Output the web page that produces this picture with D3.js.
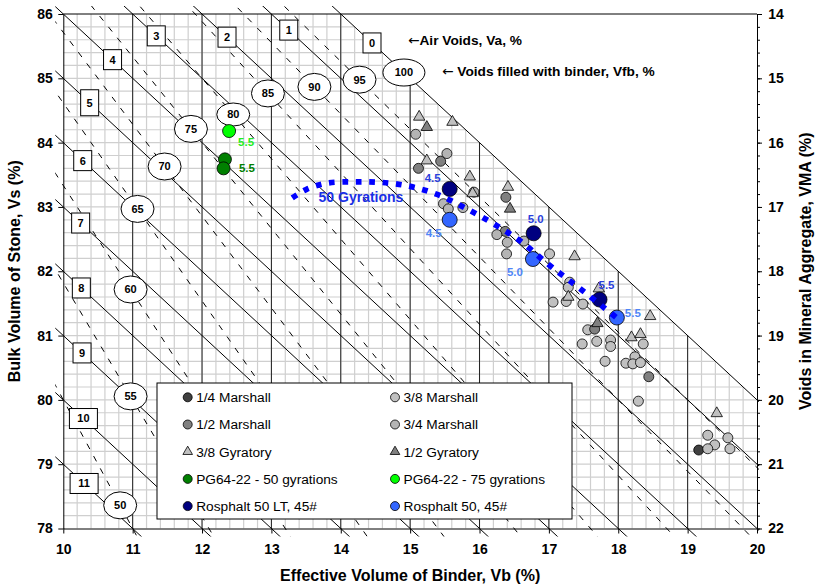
<!DOCTYPE html>
<html>
<head>
<meta charset="utf-8">
<script src="https://cdn.jsdelivr.net/npm/d3@7"></script>
<style>
body { margin: 0; background: #fff; }
svg { font-family: "Liberation Sans", Arial, sans-serif; }
</style>
</head>
<body>
<svg id="chart" width="817" height="588"></svg>
<script>
// axis ticks
var vbTicks = [10, 11, 12, 13, 14, 15, 16, 17, 18, 19, 20];
var vsTicks = [78, 79, 80, 81, 82, 83, 84, 85, 86];
var vmaTicks = [14, 15, 16, 17, 18, 19, 20, 21, 22];

// air voids lines (solid) and voids-filled lines (dashed)
var vaLevels = [0, 1, 2, 3, 4, 5, 6, 7, 8, 9, 10, 11];
var vaLabelVb = [14.45, 13.25, 12.36, 11.34, 10.71, 10.38, 10.28, 10.25, 10.26, 10.27, 10.29, 10.30];
var vfbLevels = [50, 55, 60, 65, 70, 75, 80, 85, 90, 95, 100];
var vfbLabelVb = [10.82, 10.97, 10.97, 11.07, 11.46, 11.84, 12.45, 12.95, 13.62, 14.27, 14.91];

// series (Vb, Vs)
var m14Vb = [19.16];
var m14Vs = [79.22];
var m38Vb = [17.01, 17.30, 17.28, 17.25, 17.06, 17.49, 17.56, 17.48, 17.69, 17.89, 17.89, 18.36, 17.81, 18.11, 18.24, 18.21, 18.32, 18.29, 19.29, 19.58, 19.39, 19.29, 19.61];
var m38Vs = [82.27, 81.83, 81.75, 81.53, 81.52, 81.49, 81.09, 80.87, 80.91, 80.93, 80.83, 80.87, 80.60, 80.57, 80.67, 80.56, 80.58, 79.98, 79.45, 79.41, 79.30, 79.24, 79.24];
var m12Vb = [15.44, 15.12, 16.38, 16.37, 17.66, 18.44];
var m12Vs = [83.71, 83.60, 83.15, 82.62, 81.10, 80.36];
var m34Vb = [15.08, 15.53, 15.92, 15.48, 15.55, 15.76, 16.25, 16.40, 16.39, 16.64];
var m34Vs = [84.13, 83.83, 83.23, 83.05, 82.97, 82.99, 82.57, 82.45, 82.27, 82.47];
var g38Vb = [15.13, 15.61, 15.24, 15.86, 15.90, 16.41, 17.37, 17.28, 17.72, 18.19, 18.32, 18.46, 19.42];
var g38Vs = [84.40, 84.32, 83.72, 83.47, 83.21, 83.31, 82.23, 81.60, 81.73, 80.97, 81.02, 81.30, 79.79];
var g12Vb = [15.24, 16.44, 17.70];
var g12Vs = [84.24, 82.97, 81.19];
var pg50Vb = [12.33, 12.31];
var pg50Vs = [83.74, 83.60];
var pg75Vb = [12.39];
var pg75Vs = [84.18];
var rosLtVb = [15.57, 16.78, 17.73];
var rosLtVs = [83.28, 82.59, 81.56];
var rosVb = [15.57, 16.77, 17.98];
var rosVs = [82.80, 82.19, 81.28];
var binderLabels = ['4.5', '5.0', '5.5'];

// 50 gyrations trend
var gyrVb = [13.30, 13.50, 13.80, 14.20, 14.60, 15.00, 15.40, 15.80, 16.20, 16.60, 17.00, 17.40, 17.80, 18.05];
var gyrVs = [83.14, 83.27, 83.37, 83.39, 83.38, 83.32, 83.19, 82.98, 82.74, 82.46, 82.10, 81.77, 81.43, 81.21];

var svg = d3.select('#chart');
var x = d3.scaleLinear().domain([10, 20]).range([63.3, 757]);
var y = d3.scaleLinear().domain([78, 86]).range([528.5, 14]);
var yVma = d3.scaleLinear().domain([22, 14]).range([528.5, 14]);

var defs = svg.append('defs');
defs.append('clipPath').attr('id', 'gridClip').append('polygon')
  .attr('points', [[10, 86], [14, 86], [20, 80], [20, 78], [10, 78]]
    .map(function(p) { return x(p[0]) + ',' + y(p[1]); }).join(' '));
defs.append('clipPath').attr('id', 'lineClip').append('rect')
  .attr('x', x(10) - 8).attr('y', y(86) - 8)
  .attr('width', x(20) - x(10) + 10).attr('height', y(78) - y(86) + 16);

// minor grid
var minorVb = d3.range(51, 100).map(function(i) { return i / 5; });
var minorVs = d3.range(391, 430).map(function(i) { return i / 5; });
var grid = svg.append('g').attr('clip-path', 'url(#gridClip)');
grid.selectAll('line.gv').data(minorVb).enter().append('line')
  .attr('x1', d => x(d)).attr('x2', d => x(d))
  .attr('y1', y(78)).attr('y2', y(86))
  .attr('stroke', '#cfcfcf').attr('stroke-width', 1.2);
grid.selectAll('line.gh').data(minorVs).enter().append('line')
  .attr('y1', d => y(d)).attr('y2', d => y(d))
  .attr('x1', x(10)).attr('x2', x(20))
  .attr('stroke', '#cfcfcf').attr('stroke-width', 1.2);

// black verticals below the zero air voids line
svg.append('g').selectAll('line').data(vbTicks.slice(1, -1)).enter().append('line')
  .attr('x1', d => x(d)).attr('x2', d => x(d))
  .attr('y1', y(78)).attr('y2', d => y(Math.min(86, 100 - d)))
  .attr('stroke', '#222').attr('stroke-width', 1);

// diagonal lines
var diag = svg.append('g').attr('clip-path', 'url(#lineClip)');
var line = d3.line().x(d => x(d[0])).y(d => y(d[1]));
diag.selectAll('path.vfb').data(vfbLevels.slice(0, -1)).enter().append('path')
  .attr('d', f => line([[9, 100 - 900 / f], [21, 100 - 2100 / f]]))
  .attr('fill', 'none').attr('stroke', '#000').attr('stroke-width', 1)
  .attr('stroke-dasharray', '6,8');
diag.selectAll('path.va').data(vaLevels).enter().append('path')
  .attr('d', a => line([[9, 91 - a], [21, 79 - a]]))
  .attr('fill', 'none').attr('stroke', '#000').attr('stroke-width', 1);

// axes
function styleAxis(g, size) {
  g.selectAll('text').attr('font-size', size).attr('font-weight', 'bold').attr('fill', '#000');
  g.selectAll('path,line').attr('stroke', '#000');
}
svg.append('g').attr('transform', 'translate(0,' + y(78) + ')')
  .call(d3.axisBottom(x).tickValues(vbTicks).tickSize(5).tickPadding(10.5).tickSizeOuter(0).tickFormat(d3.format('d')))
  .call(g => styleAxis(g, 14));
svg.append('g').attr('transform', 'translate(' + x(10) + ',0)')
  .call(d3.axisLeft(y).tickValues(vsTicks).tickSize(5).tickPadding(5.6).tickSizeOuter(0).tickFormat(d3.format('d')))
  .call(g => styleAxis(g, 14));
svg.append('g').attr('transform', 'translate(' + x(20) + ',0)')
  .call(d3.axisRight(yVma).tickValues(d3.range(70, 111).map(i => i / 5)).tickSize(3).tickSizeOuter(0).tickFormat(''))
  .call(g => styleAxis(g, 14));
svg.append('g').attr('transform', 'translate(' + x(20) + ',0)')
  .call(d3.axisRight(yVma).tickValues(vmaTicks).tickSize(5).tickPadding(6.3).tickSizeOuter(0).tickFormat(d3.format('d')))
  .call(g => styleAxis(g, 14));
svg.append('line')
  .attr('x1', x(10)).attr('x2', x(20)).attr('y1', y(86)).attr('y2', y(86))
  .attr('stroke', '#000');

// axis titles
svg.append('text').attr('x', (x(10) + x(20)) / 2).attr('y', 581)
  .attr('text-anchor', 'middle').attr('font-size', 16).attr('font-weight', 'bold')
  .text('Effective Volume of Binder, Vb (%)');
svg.append('text').attr('transform', 'translate(20,' + (y(82)) + ') rotate(-90)')
  .attr('text-anchor', 'middle').attr('font-size', 16).attr('font-weight', 'bold')
  .text('Bulk Volume of Stone, Vs (%)');
svg.append('text').attr('transform', 'translate(811,' + (y(82)) + ') rotate(-90)')
  .attr('text-anchor', 'middle').attr('font-size', 16).attr('font-weight', 'bold')
  .text('Voids in Mineral Aggregate, VMA (%)');

// vfb ellipse labels
var ell = svg.append('g').selectAll('g').data(vfbLevels).enter().append('g')
  .attr('transform', (f, i) => {
    var vb = vfbLabelVb[i];
    return 'translate(' + x(vb) + ',' + y(100 - vb * 100 / f) + ')';
  });
ell.append('ellipse')
  .attr('rx', f => f === 100 ? 21 : 16.5)
  .attr('ry', f => f === 80 ? 11.5 : 13.5)
  .attr('fill', '#fff').attr('stroke', '#000').attr('stroke-width', 1);
ell.append('text').attr('text-anchor', 'middle').attr('dy', '0.36em')
  .attr('font-size', 11).attr('font-weight', 'bold').text(f => f);

// va box labels
var box = svg.append('g').selectAll('g').data(vaLevels).enter().append('g')
  .attr('transform', (a, i) => {
    var vb = vaLabelVb[i];
    return 'translate(' + x(vb) + ',' + y(100 - a - vb) + ')';
  });
box.append('rect')
  .attr('x', a => a >= 10 ? -14 : -9).attr('width', a => a >= 10 ? 28 : 18)
  .attr('y', a => a === 5 ? -13 : -10).attr('height', a => a === 5 ? 26 : 20)
  .attr('fill', '#fff').attr('stroke', '#000').attr('stroke-width', 1);
box.append('text').attr('text-anchor', 'middle').attr('dy', '0.36em')
  .attr('font-size', 11).attr('font-weight', 'bold').text(a => a);

// annotations
var ann1 = svg.append('text').attr('x', 408).attr('y', 45).attr('font-size', 13.7).attr('font-weight', 'bold');
ann1.append('tspan').attr('font-family', 'DejaVu Sans').attr('font-weight', 'normal').text('\u2190');
ann1.append('tspan').text('Air Voids, Va, %');
var ann2 = svg.append('text').attr('x', 442).attr('y', 75.5).attr('font-size', 13.7).attr('font-weight', 'bold');
ann2.append('tspan').attr('font-family', 'DejaVu Sans').attr('font-weight', 'normal').text('\u2190');
ann2.append('tspan').text(' Voids filled with binder, Vfb, %');

// markers
var tri = d3.symbol().type(d3.symbolTriangle).size(56);
function drawCircles(vb, vs, fill, r) {
  svg.append('g').selectAll('circle').data(d3.zip(vb, vs)).enter().append('circle')
    .attr('cx', d => x(d[0])).attr('cy', d => y(d[1])).attr('r', r)
    .attr('fill', fill).attr('stroke', '#000').attr('stroke-width', 0.8);
}
function drawTriangles(vb, vs, fill) {
  svg.append('g').selectAll('path').data(d3.zip(vb, vs)).enter().append('path')
    .attr('transform', d => 'translate(' + x(d[0]) + ',' + y(d[1]) + ')')
    .attr('d', tri).attr('fill', fill).attr('stroke', '#000').attr('stroke-width', 0.8);
}
drawCircles(m14Vb, m14Vs, '#404040', 5);
drawCircles(m38Vb, m38Vs, '#c0c0c0', 5);
drawCircles(m12Vb, m12Vs, '#808080', 5);
drawCircles(m34Vb, m34Vs, '#b4b4b4', 5);
drawTriangles(g38Vb, g38Vs, '#c0c0c0');
drawTriangles(g12Vb, g12Vs, '#808080');
drawCircles(pg50Vb, pg50Vs, '#008000', 6.5);
drawCircles(pg75Vb, pg75Vs, '#00ff00', 6.5);
drawCircles(rosLtVb, rosLtVs, '#000080', 7.5);
drawCircles(rosVb, rosVs, '#3366ff', 7.5);

// 50 gyrations trend
svg.append('path')
  .attr('d', d3.line().x(d => x(d[0])).y(d => y(d[1])).curve(d3.curveCatmullRom)(d3.zip(gyrVb, gyrVs)))
  .attr('fill', 'none').attr('stroke', '#0000ff').attr('stroke-width', 5.7)
  .attr('stroke-dasharray', '5.7,7.7');
svg.append('text').attr('x', 361).attr('y', 202).attr('text-anchor', 'middle')
  .attr('font-size', 14).attr('font-weight', 'bold').attr('fill', '#1a2fe6')
  .text('50 Gyrations');

// point labels
var rosLtOffset = [[-17, -11], [2, -14], [7, -15]];
var rosOffset = [[-16, 13], [-18, 13], [16, -5]];
function drawLabels(vb, vs, texts, offs, color) {
  svg.append('g').selectAll('text').data(d3.zip(vb, vs, texts, offs)).enter().append('text')
    .attr('x', d => x(d[0]) + d[3][0]).attr('y', d => y(d[1]) + d[3][1])
    .attr('dy', '0.36em').attr('text-anchor', 'middle')
    .attr('font-size', 11.5).attr('font-weight', 'bold').attr('fill', color)
    .text(d => d[2]);
}
drawLabels(rosLtVb, rosLtVs, binderLabels, rosLtOffset, '#2a3fdc');
drawLabels(rosVb, rosVs, binderLabels, rosOffset, '#4f86f7');
drawLabels(pg75Vb, pg75Vs, ['5.5'], [[17, 11]], '#22ee22');
drawLabels(pg50Vb.slice(0, 1), pg50Vs.slice(0, 1), ['5.5'], [[22, 9]], '#008000');

// legend
var legendNames = ['1/4 Marshall', '3/8 Marshall', '1/2 Marshall', '3/4 Marshall', '3/8 Gyratory', '1/2 Gyratory',
  'PG64-22 - 50 gyrations', 'PG64-22 - 75 gyrations', 'Rosphalt 50 LT, 45#', 'Rosphalt 50, 45#'];
var legendFill = ['#404040', '#c0c0c0', '#808080', '#b4b4b4', '#c0c0c0', '#808080', '#008000', '#00ff00', '#000080', '#3366ff'];
var legendShape = ['c', 'c', 'c', 'c', 't', 't', 'c', 'c', 'c', 'c'];

var lg = svg.append('g');
lg.append('rect').attr('x', 157).attr('y', 383).attr('width', 415).attr('height', 136)
  .attr('fill', '#fff').attr('stroke', '#000').attr('stroke-width', 1);
var item = lg.selectAll('g').data(legendNames).enter().append('g')
  .attr('transform', (d, i) => 'translate(' + (i % 2 ? 395 : 187.7) + ',' + (397.3 + Math.floor(i / 2) * 27.2) + ')');
item.each(function(d, i) {
  var g = d3.select(this);
  if (legendShape[i] === 'c') {
    g.append('circle').attr('r', 4.5).attr('fill', legendFill[i]).attr('stroke', '#000').attr('stroke-width', 0.8);
  } else {
    g.append('path').attr('d', d3.symbol().type(d3.symbolTriangle).size(40))
      .attr('fill', legendFill[i]).attr('stroke', '#000').attr('stroke-width', 0.8);
  }
});
item.append('text').attr('x', 8.5).attr('dy', '0.36em').attr('font-size', 13.7).text(d => d);
</script>
</body>
</html>
